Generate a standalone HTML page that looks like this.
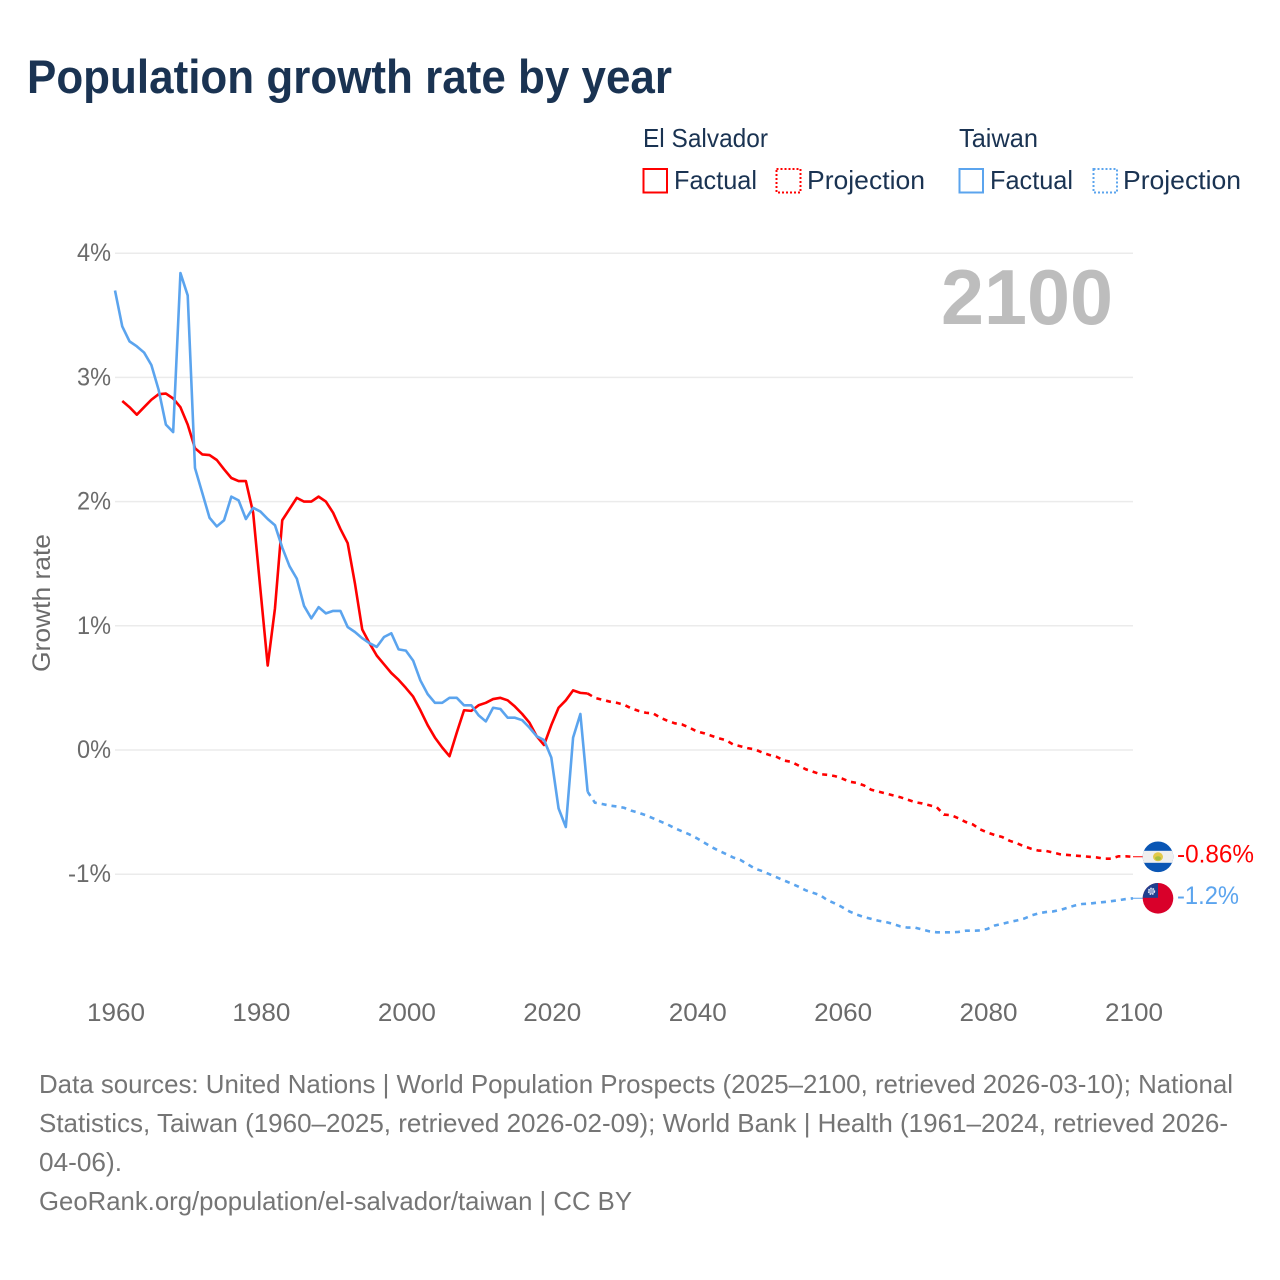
<!DOCTYPE html>
<html lang="en">
<head>
<meta charset="utf-8">
<title>Population growth rate by year</title>
<style>
  html, body { margin: 0; padding: 0; background: #fff; }
  #chart { display: block; width: 1280px; height: 1280px; font-family: "Liberation Sans", sans-serif; }
</style>
</head>
<body>
<svg id="chart" xmlns="http://www.w3.org/2000/svg" width="1280" height="1280" viewBox="0 0 1280 1280">
  <rect x="0" y="0" width="1280" height="1280" fill="#ffffff"/>
  <text x="27" y="93" font-size="47" font-weight="700" fill="#1a3352" textLength="645" lengthAdjust="spacingAndGlyphs">Population growth rate by year</text>

  <g font-size="26" fill="#1a3352">
    <text x="643" y="147" textLength="125" lengthAdjust="spacingAndGlyphs">El Salvador</text>
    <text x="959" y="147" textLength="79" lengthAdjust="spacingAndGlyphs">Taiwan</text>
    <rect x="643.5" y="169" width="23.5" height="23.5" fill="none" stroke="#ff0000" stroke-width="2"/>
    <text x="674" y="189" textLength="83" lengthAdjust="spacingAndGlyphs">Factual</text>
    <rect x="776.5" y="169" width="24" height="23.5" fill="none" stroke="#ff0000" stroke-width="2" stroke-dasharray="2 2"/>
    <text x="807" y="189" textLength="118" lengthAdjust="spacingAndGlyphs">Projection</text>
    <rect x="959.5" y="169" width="23.5" height="23.5" fill="none" stroke="#5ba4ee" stroke-width="2"/>
    <text x="990" y="189" textLength="83" lengthAdjust="spacingAndGlyphs">Factual</text>
    <rect x="1093.5" y="169" width="23.5" height="23.5" fill="none" stroke="#5ba4ee" stroke-width="2" stroke-dasharray="2 2"/>
    <text x="1123" y="189" textLength="118" lengthAdjust="spacingAndGlyphs">Projection</text>
  </g>

  <g id="grid"></g>
  <g id="y-ticks"></g>
  <g id="x-ticks"></g>
  <text transform="translate(50 603) rotate(-90)" text-anchor="middle" font-size="25" fill="#6b6b6b" textLength="138" lengthAdjust="spacingAndGlyphs">Growth rate</text>
  <text x="941" y="324" font-size="78" font-weight="700" fill="#bdbdbd" textLength="172" lengthAdjust="spacingAndGlyphs">2100</text>
  <g id="series"></g>
  <g id="end-markers"></g>

  <g font-size="26" fill="#757575">
    <text x="39" y="1093" textLength="1194" lengthAdjust="spacingAndGlyphs">Data sources: United Nations | World Population Prospects (2025–2100, retrieved 2026-03-10); National</text>
    <text x="39" y="1132" textLength="1189" lengthAdjust="spacingAndGlyphs">Statistics, Taiwan (1960–2025, retrieved 2026-02-09); World Bank | Health (1961–2024, retrieved 2026-</text>
    <text x="39" y="1171" textLength="83" lengthAdjust="spacingAndGlyphs">04-06).</text>
    <text x="39" y="1210" textLength="593" lengthAdjust="spacingAndGlyphs">GeoRank.org/population/el-salvador/taiwan | CC BY</text>
  </g>
</svg>

<script>
// ---- Data ----
const yTickValues = [4, 3, 2, 1, 0, -1];
const yTickLabels = ["4%", "3%", "2%", "1%", "0%", "-1%"];
const xTickYears = [1960, 1980, 2000, 2020, 2040, 2060, 2080, 2100];
const xTickLabels = ["1960", "1980", "2000", "2020", "2040", "2060", "2080", "2100"];

const elSalvadorFactualStart = 1961;
const elSalvadorFactual = [
  2.81, 2.76, 2.70, 2.76, 2.82, 2.865, 2.87, 2.83, 2.76,
  2.62, 2.43, 2.38, 2.375, 2.335, 2.26, 2.19, 2.165, 2.165, 1.91,
  1.29, 0.68, 1.14, 1.85, 1.94, 2.03, 2.00, 2.00, 2.04, 2.00,
  1.91, 1.78, 1.665, 1.34, 0.97, 0.86, 0.76, 0.69, 0.62, 0.565,
  0.50, 0.43, 0.32, 0.20, 0.10, 0.02, -0.05, 0.14, 0.32, 0.315,
  0.36, 0.38, 0.41, 0.42, 0.40, 0.35, 0.29, 0.22, 0.11, 0.04,
  0.20, 0.34, 0.40, 0.48, 0.46, 0.455
];
const elSalvadorProjectionStart = 2025;
const elSalvadorProjection = [
  0.455, 0.42, 0.405, 0.39, 0.38, 0.365, 0.335, 0.315, 0.30, 0.295,
  0.26, 0.235, 0.215, 0.205, 0.18, 0.15, 0.135, 0.115, 0.095, 0.08,
  0.045, 0.03, 0.015, 0.005, -0.02, -0.04, -0.055, -0.085, -0.095, -0.125,
  -0.155, -0.175, -0.195, -0.20, -0.21, -0.23, -0.255, -0.265, -0.285, -0.32,
  -0.335, -0.35, -0.365, -0.38, -0.40, -0.42, -0.43, -0.445, -0.46, -0.52,
  -0.525, -0.55, -0.58, -0.60, -0.64, -0.665, -0.685, -0.70, -0.73, -0.75,
  -0.775, -0.795, -0.81, -0.812, -0.825, -0.84, -0.845, -0.85, -0.855, -0.86,
  -0.865, -0.875, -0.875, -0.856, -0.856, -0.86
];
const taiwanFactualStart = 1960;
const taiwanFactual = [
  3.70, 3.41, 3.29, 3.25, 3.20, 3.10, 2.90, 2.62, 2.56, 3.84,
  3.66, 2.27, 2.07, 1.87, 1.80, 1.85, 2.04, 2.01, 1.86, 1.95,
  1.92, 1.86, 1.81, 1.63, 1.48, 1.38, 1.16, 1.06, 1.15, 1.10,
  1.12, 1.12, 0.99, 0.95, 0.90, 0.86, 0.83, 0.91, 0.94, 0.81,
  0.80, 0.72, 0.56, 0.45, 0.38, 0.38, 0.42, 0.42, 0.36, 0.36,
  0.28, 0.23, 0.34, 0.33, 0.26, 0.26, 0.24, 0.18, 0.11, 0.08,
  -0.06, -0.47, -0.62, 0.10, 0.29, -0.336
];
const taiwanProjectionStart = 2025;
const taiwanProjection = [
  -0.336, -0.424, -0.435, -0.447, -0.455, -0.465, -0.488, -0.505, -0.525, -0.55,
  -0.575, -0.60, -0.63, -0.655, -0.68, -0.71, -0.745, -0.78, -0.81, -0.837,
  -0.865, -0.885, -0.92, -0.955, -0.975, -1.00, -1.025, -1.05, -1.075, -1.10,
  -1.13, -1.15, -1.17, -1.21, -1.235, -1.265, -1.30, -1.325, -1.345, -1.36,
  -1.375, -1.385, -1.40, -1.42, -1.43, -1.43, -1.445, -1.46, -1.468, -1.468,
  -1.468, -1.465, -1.455, -1.455, -1.453, -1.44, -1.413, -1.40, -1.385, -1.373,
  -1.358, -1.333, -1.315, -1.305, -1.30, -1.288, -1.27, -1.252, -1.24, -1.237,
  -1.23, -1.224, -1.217, -1.21, -1.20, -1.194
];
const endLabelElSalvador = "-0.86%";
const endLabelTaiwan = "-1.2%";

// ---- Axis functions ----
const SVGNS = "http://www.w3.org/2000/svg";
function xScale(year) { return 115 + (year - 1960) * (1133 - 115) / 140; }
function yScale(value) { return 750 - value * 124.2; }
function mk(tag, parent) {
  const el = document.createElementNS(SVGNS, tag);
  parent.appendChild(el);
  return el;
}
function linePath(values, startYear) {
  return values.map(function (v, i) {
    return (i ? "L" : "M") + xScale(startYear + i).toFixed(2) + " " + yScale(v).toFixed(2);
  }).join(" ");
}

// ---- Grid and ticks ----
const gridG = document.getElementById("grid");
const yTickG = document.getElementById("y-ticks");
const xTickG = document.getElementById("x-ticks");

yTickValues.forEach(function (v, i) {
  const gl = mk("line", gridG);
  
  
  gl.setAttribute("x1", xScale(1960));
  gl.setAttribute("x2", xScale(2100));
  gl.setAttribute("y1", yScale(v));
  gl.setAttribute("y2", yScale(v));
  gl.setAttribute("stroke", "#ebebeb");
  gl.setAttribute("stroke-width", "1.5");

  const t = mk("text", yTickG);
  
  
  t.setAttribute("x", 111);
  t.setAttribute("y", yScale(v) + 8);
  t.setAttribute("text-anchor", "end");
  t.setAttribute("font-size", "25");
  t.setAttribute("fill", "#6b6b6b");
  t.setAttribute("textLength", yTickLabels[i].length === 2 ? 34 : 43);
  t.setAttribute("lengthAdjust", "spacingAndGlyphs");
  t.textContent = yTickLabels[i];
});

xTickYears.forEach(function (yr, i) {
  const t = mk("text", xTickG);
  
  
  t.setAttribute("x", xScale(yr) + 1);
  t.setAttribute("y", 1021);
  t.setAttribute("text-anchor", "middle");
  t.setAttribute("font-size", "25");
  t.setAttribute("fill", "#6b6b6b");
  t.setAttribute("textLength", 58);
  t.setAttribute("lengthAdjust", "spacingAndGlyphs");
  t.textContent = xTickLabels[i];
});

// ---- Series lines ----
const seriesG = document.getElementById("series");

const projRed = mk("path", seriesG);


projRed.setAttribute("d", linePath(elSalvadorProjection, elSalvadorProjectionStart));
projRed.setAttribute("fill", "none");
projRed.setAttribute("stroke", "#ff0000");
projRed.setAttribute("stroke-width", "2.6");
projRed.setAttribute("stroke-dasharray", "5 5");

const projBlue = mk("path", seriesG);


projBlue.setAttribute("d", linePath(taiwanProjection, taiwanProjectionStart));
projBlue.setAttribute("fill", "none");
projBlue.setAttribute("stroke", "#5ba4ee");
projBlue.setAttribute("stroke-width", "2.6");
projBlue.setAttribute("stroke-dasharray", "5 5");

const factRed = mk("path", seriesG);


factRed.setAttribute("d", linePath(elSalvadorFactual, elSalvadorFactualStart));
factRed.setAttribute("fill", "none");
factRed.setAttribute("stroke", "#ff0000");
factRed.setAttribute("stroke-width", "2.6");
factRed.setAttribute("stroke-linejoin", "round");

const factBlue = mk("path", seriesG);


factBlue.setAttribute("d", linePath(taiwanFactual, taiwanFactualStart));
factBlue.setAttribute("fill", "none");
factBlue.setAttribute("stroke", "#5ba4ee");
factBlue.setAttribute("stroke-width", "2.6");
factBlue.setAttribute("stroke-linejoin", "round");

// ---- End markers: connectors, flags, value labels ----
const endG = document.getElementById("end-markers");
const svY = yScale(elSalvadorProjection[elSalvadorProjection.length - 1]);
const twY = yScale(taiwanProjection[taiwanProjection.length - 1]);
const flagX = 1158;
const flagR = 15.3;

const svConn = mk("line", endG);


svConn.setAttribute("x1", xScale(2100));
svConn.setAttribute("x2", flagX);
svConn.setAttribute("y1", svY);
svConn.setAttribute("y2", svY);
svConn.setAttribute("stroke", "#ff0000");
svConn.setAttribute("stroke-width", "1");

const twConn = mk("line", endG);


twConn.setAttribute("x1", xScale(2100));
twConn.setAttribute("x2", flagX);
twConn.setAttribute("y1", twY);
twConn.setAttribute("y2", twY);
twConn.setAttribute("stroke", "#5ba4ee");
twConn.setAttribute("stroke-width", "1");

const defs = mk("defs", endG);
const svClip = mk("clipPath", defs);
svClip.setAttribute("id", "sv-clip");
const svClipC = mk("circle", svClip);
svClipC.setAttribute("cx", flagX);
svClipC.setAttribute("cy", svY);
svClipC.setAttribute("r", flagR);
const twClip = mk("clipPath", defs);
twClip.setAttribute("id", "tw-clip");
const twClipC = mk("circle", twClip);
twClipC.setAttribute("cx", flagX);
twClipC.setAttribute("cy", twY);
twClipC.setAttribute("r", flagR);

// El Salvador flag
const svFlag = mk("g", endG);


svFlag.setAttribute("clip-path", "url(#sv-clip)");
const svBlue = mk("rect", svFlag);


svBlue.setAttribute("x", flagX - 16);
svBlue.setAttribute("y", svY - 16);
svBlue.setAttribute("width", 32);
svBlue.setAttribute("height", 32);
svBlue.setAttribute("fill", "#0a56b4");
const svWhite = mk("rect", svFlag);


svWhite.setAttribute("x", flagX - 16);
svWhite.setAttribute("y", svY - 6);
svWhite.setAttribute("width", 32);
svWhite.setAttribute("height", 12);
svWhite.setAttribute("fill", "#efefef");
const svEmblem = mk("ellipse", svFlag);


svEmblem.setAttribute("cx", flagX);
svEmblem.setAttribute("cy", svY);
svEmblem.setAttribute("rx", 5);
svEmblem.setAttribute("ry", 4.5);
svEmblem.setAttribute("fill", "#e3c94a");
const svEmblemCore = mk("ellipse", svFlag);


svEmblemCore.setAttribute("cx", flagX);
svEmblemCore.setAttribute("cy", svY + 1.5);
svEmblemCore.setAttribute("rx", 3);
svEmblemCore.setAttribute("ry", 2);
svEmblemCore.setAttribute("fill", "#a9bf3f");

// Taiwan flag
const twFlag = mk("g", endG);


twFlag.setAttribute("clip-path", "url(#tw-clip)");
const twRed = mk("rect", twFlag);


twRed.setAttribute("x", flagX - 16);
twRed.setAttribute("y", twY - 16);
twRed.setAttribute("width", 32);
twRed.setAttribute("height", 32);
twRed.setAttribute("fill", "#d9002a");
const twCanton = mk("rect", twFlag);


twCanton.setAttribute("x", flagX - 16);
twCanton.setAttribute("y", twY - 16);
twCanton.setAttribute("width", 16);
twCanton.setAttribute("height", 15.5);
twCanton.setAttribute("fill", "#1f3f8f");
const twSun = mk("circle", twFlag);


twSun.setAttribute("cx", flagX - 6.5);
twSun.setAttribute("cy", twY - 7);
twSun.setAttribute("r", 3);
twSun.setAttribute("fill", "#8fa3cf");
twSun.setAttribute("stroke", "#dfe6f5");
twSun.setAttribute("stroke-width", "1.4");
twSun.setAttribute("stroke-dasharray", "1.5 1");

const svLabel = mk("text", endG);


svLabel.setAttribute("x", 1177);
svLabel.setAttribute("y", svY + 5.5);
svLabel.setAttribute("font-size", "25");
svLabel.setAttribute("fill", "#ff0000");
svLabel.setAttribute("textLength", 77);
svLabel.setAttribute("lengthAdjust", "spacingAndGlyphs");
svLabel.textContent = endLabelElSalvador;

const twLabel = mk("text", endG);


twLabel.setAttribute("x", 1177);
twLabel.setAttribute("y", twY + 5.5);
twLabel.setAttribute("font-size", "25");
twLabel.setAttribute("fill", "#5ba4ee");
twLabel.setAttribute("textLength", 62);
twLabel.setAttribute("lengthAdjust", "spacingAndGlyphs");
twLabel.textContent = endLabelTaiwan;
</script>
</body>
</html>
